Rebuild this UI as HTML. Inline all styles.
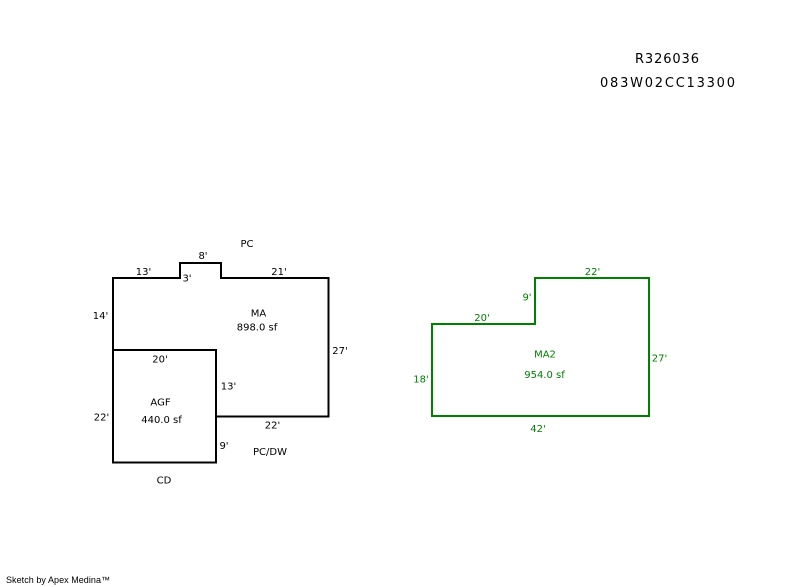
<!DOCTYPE html>
<html>
<head>
<meta charset="utf-8">
<style>
  html, body { margin: 0; padding: 0; background: #ffffff; }
  body { width: 800px; height: 587px; overflow: hidden; }
  svg { display: block; }
  .lbl { font-family: "DejaVu Sans", "Liberation Sans", sans-serif; font-size: 10px; }
</style>
</head>
<body>
<svg width="800" height="587" viewBox="0 0 800 587" xmlns="http://www.w3.org/2000/svg">
  <rect x="0" y="0" width="800" height="587" fill="#ffffff"/>

  <!-- Top right identifiers -->
  <text x="635" y="63" style="font-family:'DejaVu Sans','Liberation Sans',sans-serif;font-size:13px;" textLength="64" lengthAdjust="spacing" fill="#000">R326036</text>
  <text x="600" y="87" style="font-family:'DejaVu Sans','Liberation Sans',sans-serif;font-size:13px;" textLength="135" lengthAdjust="spacing" fill="#000">083W02CC13300</text>

  <!-- Black sketch: MA -->
  <polyline points="113,350 113,278 180,278 180,263 221,263 221,278 328.5,278 328.5,416.5 216,416.5"
            fill="none" stroke="#000" stroke-width="2" stroke-linejoin="miter"/>
  <!-- AGF -->
  <rect x="113" y="350" width="103" height="112.5" fill="none" stroke="#000" stroke-width="2"/>

  <g class="lbl" fill="#000" text-anchor="middle">
    <text x="247" y="247">PC</text>
    <text x="203" y="259">8'</text>
    <text x="143.5" y="275">13'</text>
    <text x="187" y="281.5">3'</text>
    <text x="279" y="275">21'</text>
    <text x="100.5" y="319">14'</text>
    <text x="258.5" y="316.5">MA</text>
    <text x="257" y="330.5">898.0 sf</text>
    <text x="340" y="354">27'</text>
    <text x="160" y="362.5">20'</text>
    <text x="228.5" y="389.5">13'</text>
    <text x="160.5" y="405.5">AGF</text>
    <text x="161.5" y="423">440.0 sf</text>
    <text x="101.5" y="420.5">22'</text>
    <text x="272.5" y="428.5">22'</text>
    <text x="224" y="449">9'</text>
    <text x="270" y="455">PC/DW</text>
    <text x="164" y="483.5">CD</text>
  </g>

  <!-- Green sketch: MA2 -->
  <polygon points="432,324 535,324 535,278 649,278 649,416 432,416"
           fill="none" stroke="#008000" stroke-width="2" stroke-linejoin="miter"/>
  <g class="lbl" fill="#008000" text-anchor="middle">
    <text x="592.5" y="275">22'</text>
    <text x="527" y="300.5">9'</text>
    <text x="482" y="321">20'</text>
    <text x="545" y="357.5">MA2</text>
    <text x="544.5" y="378">954.0 sf</text>
    <text x="659.5" y="361.5">27'</text>
    <text x="421" y="382.5">18'</text>
    <text x="538" y="432">42'</text>
  </g>

  <!-- Footer -->
  <text x="6" y="583" style="font-family:'Liberation Sans',sans-serif;font-size:9px;" textLength="104" lengthAdjust="spacing" fill="#000">Sketch by Apex Medina™</text>
</svg>
</body>
</html>
